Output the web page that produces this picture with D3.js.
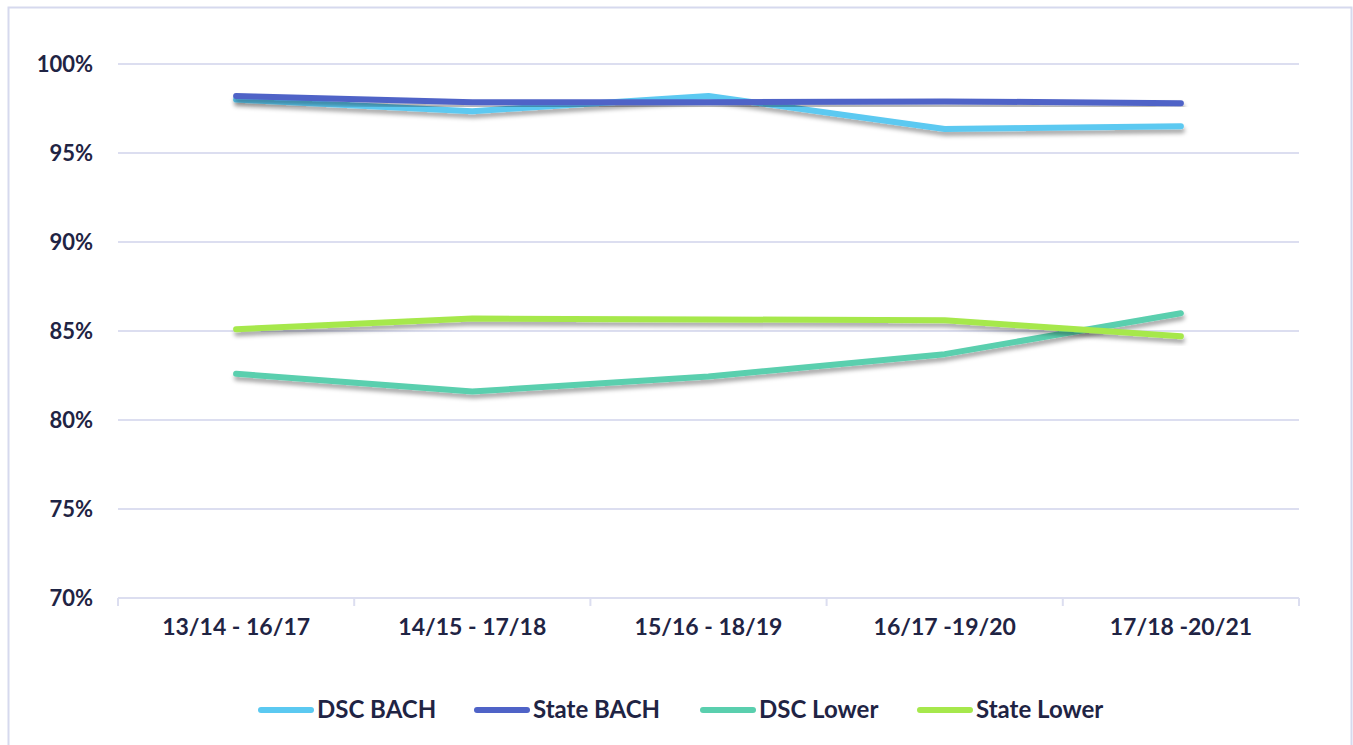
<!DOCTYPE html>
<html>
<head>
<meta charset="utf-8">
<script src="https://cdn.jsdelivr.net/npm/d3@7"></script>
<style>
  html, body { margin: 0; padding: 0; background: #fff; }
  svg text { font-family: "Lato", "Open Sans", sans-serif; font-weight: 700; fill: #1f2444; }
</style>
</head>
<body>
<div id="chart"></div>
<script>
//******************************************************************************
//**  Chart data
//******************************************************************************
var categories = ["13/14 - 16/17", "14/15 - 17/18", "15/16 - 18/19", "16/17 -19/20", "17/18 -20/21"];
var seriesNames = ["DSC BACH", "State BACH", "DSC Lower", "State Lower"];
var seriesColors = ["#5bc9f1", "#4f63c7", "#5acfae", "#a6e84c"];
var dscBach = [98.0, 97.35, 98.2, 96.35, 96.5];
var stateBach = [98.2, 97.85, 97.85, 97.9, 97.8];
var dscLower = [82.6, 81.6, 82.45, 83.7, 86.0];
var stateLower = [85.1, 85.7, 85.65, 85.6, 84.7];
var yTicks = [70, 75, 80, 85, 90, 95, 100];

var seriesValues = [dscBach, stateBach, dscLower, stateLower];


//******************************************************************************
//**  Render
//******************************************************************************
var width = 1353, height = 745;
var margin = {left: 118, right: 54, top: 64, bottom: 147};

var svg = d3.select("#chart").append("svg")
    .attr("width", width)
    .attr("height", height);

// drop shadow used by the lines
var defs = svg.append("defs");
defs.append("filter")
    .attr("id", "shadow")
    .attr("x", "-5%").attr("y", "-50%")
    .attr("width", "110%").attr("height", "200%")
    .append("feDropShadow")
    .attr("dx", 1).attr("dy", 4)
    .attr("stdDeviation", 2.2)
    .attr("flood-color", "#000")
    .attr("flood-opacity", 0.35);

// outer frame
svg.append("rect")
    .attr("x", 8.5).attr("y", 7.5)
    .attr("width", width - 10).attr("height", height + 20)
    .attr("fill", "none")
    .attr("stroke", "#d6d9ee")
    .attr("stroke-width", 2);

var x = d3.scaleBand()
    .domain(categories)
    .range([margin.left, width - margin.right]);

var y = d3.scaleLinear()
    .domain([70, 100])
    .range([height - margin.bottom, margin.top]);

// gridlines
svg.append("g")
    .selectAll("line")
    .data(yTicks.filter(function(d){ return d !== 70; }))
    .enter().append("line")
    .attr("x1", margin.left).attr("x2", width - margin.right)
    .attr("y1", function(d){ return y(d); })
    .attr("y2", function(d){ return y(d); })
    .attr("stroke", "#dcdef0")
    .attr("stroke-width", 2);

// y axis labels
var yAxis = svg.append("g")
    .attr("transform", "translate(" + (margin.left - 25) + ",0)")
    .call(d3.axisLeft(y).tickValues(yTicks).tickSize(0).tickFormat(function(d){ return d + "%"; }));
yAxis.select(".domain").remove();
yAxis.selectAll("text")
    .attr("x", 0)
    .style("font-size", "22px");

// x axis
var xAxis = svg.append("g")
    .attr("transform", "translate(0," + y(70) + ")")
    .call(d3.axisBottom(x).tickSize(0).tickPadding(21));
xAxis.select(".domain")
    .attr("stroke", "#dcdef0")
    .attr("stroke-width", 2)
    .attr("d", "M" + margin.left + ",0H" + (width - margin.right));
xAxis.selectAll("text").style("font-size", "23px");

var bounds = x.domain().map(function(d){ return x(d); }).concat([width - margin.right]);
xAxis.selectAll(".bound")
    .data(bounds)
    .enter().append("line")
    .attr("class", "bound")
    .attr("x1", function(d){ return d; }).attr("x2", function(d){ return d; })
    .attr("y1", 0).attr("y2", 8)
    .attr("stroke", "#dcdef0")
    .attr("stroke-width", 2);

// lines
var line = d3.line()
    .x(function(d, i){ return x(categories[i]) + x.bandwidth() / 2; })
    .y(function(d){ return y(d); });

svg.append("g")
    .selectAll("path")
    .data(seriesValues)
    .enter().append("path")
    .attr("d", line)
    .attr("fill", "none")
    .attr("stroke", function(d, i){ return seriesColors[i]; })
    .attr("stroke-width", 6)
    .attr("stroke-linecap", "round")
    .attr("stroke-linejoin", "round")
    .attr("filter", "url(#shadow)");

// legend
var legendX = [258, 474, 700, 917];
var legend = svg.append("g")
    .attr("transform", "translate(0,710)");
var item = legend.selectAll("g")
    .data(seriesNames)
    .enter().append("g")
    .attr("transform", function(d, i){ return "translate(" + legendX[i] + ",0)"; });
item.append("line")
    .attr("x1", 3).attr("x2", 53)
    .attr("y1", 0).attr("y2", 0)
    .attr("stroke", function(d, i){ return seriesColors[i]; })
    .attr("stroke-width", 6)
    .attr("stroke-linecap", "round");
item.append("text")
    .attr("x", 59)
    .attr("dy", "0.35em")
    .style("font-size", "24px")
    .text(function(d){ return d; });
</script>
</body>
</html>
